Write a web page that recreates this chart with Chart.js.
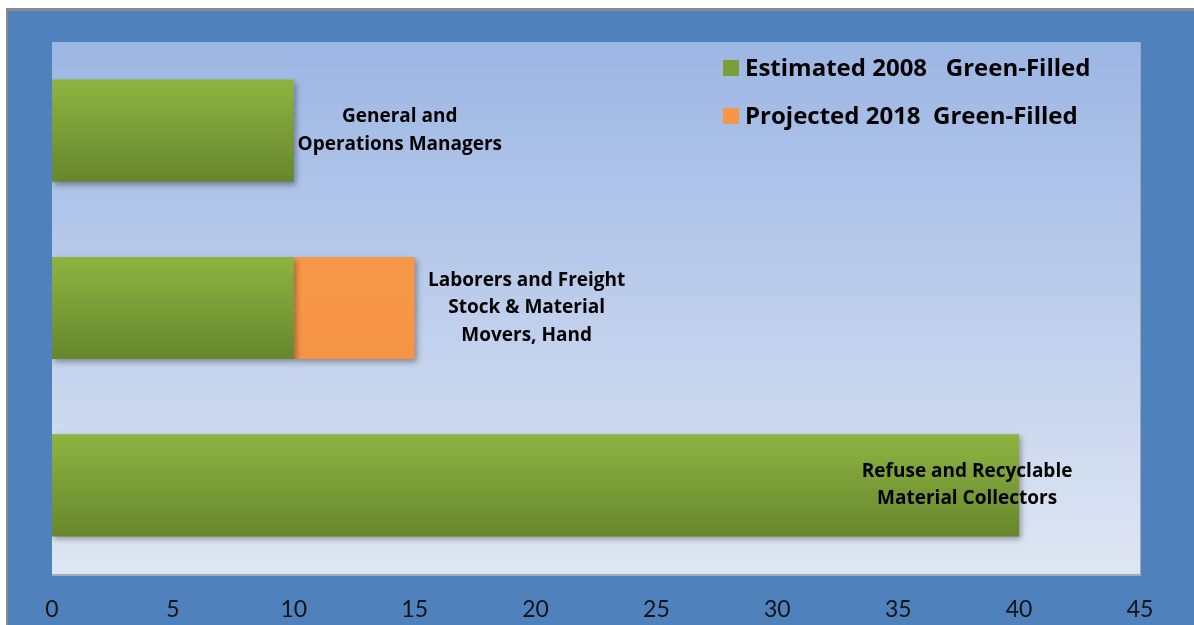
<!DOCTYPE html>
<html>
<head>
<meta charset="utf-8">
<script src="https://cdn.jsdelivr.net/npm/chart.js@4/dist/chart.umd.min.js"></script>
<style>
  html, body { margin: 0; padding: 0; background: #fff; }
  #wrap { width: 1194px; height: 625px; }
</style>
</head>
<body>
<div id="wrap"><canvas id="myChart" width="1194" height="625"></canvas></div>
<script>
// categories, top to bottom
const categories = [
  ['General and', 'Operations Managers'],
  ['Laborers and Freight', 'Stock & Material', 'Movers, Hand'],
  ['Refuse and Recyclable', 'Material Collectors']
];
const estimated2008 = [10, 10, 40];
const projected2018 = [0, 5, 0];
const seriesNames = ['Estimated 2008   Green-Filled', 'Projected 2018  Green-Filled'];
const xMin = 0, xMax = 45, xStep = 5;

const CAT_PCT = 0.8, BAR_PCT = 0.72;

// vertical gradient for each bar, built from the category scale
const barFill = (top, bottom) => (c) => {
  const chart = c.chart;
  const y = chart.scales && chart.scales.y;
  if (!y || !chart.chartArea || c.dataIndex === undefined) return top;
  const mid = y.getPixelForValue(c.dataIndex);
  const half = (y.height / categories.length) * CAT_PCT * BAR_PCT / 2;
  const g = chart.ctx.createLinearGradient(0, mid - half, 0, mid + half);
  g.addColorStop(0, top);
  g.addColorStop(1, bottom);
  return g;
};

const frame = {
  id: 'frame',
  beforeDraw(chart) {
    const { ctx, width, height, chartArea: a } = chart;
    ctx.save();
    ctx.fillStyle = '#ffffff';
    ctx.fillRect(0, 0, width, height);
    ctx.fillStyle = '#8a8a8a';
    ctx.fillRect(6, 8, width - 6, height - 8);
    ctx.fillStyle = '#4f81bd';
    ctx.fillRect(8, 11, width - 8, height - 11);
    // plot area
    const g = ctx.createLinearGradient(0, a.top, 0, a.bottom);
    g.addColorStop(0, '#9cb6e4');
    g.addColorStop(1, '#dfe6f3');
    ctx.fillStyle = '#a3a9b5';
    ctx.fillRect(a.left, a.top, a.right - a.left + 1, a.bottom - a.top + 2);
    ctx.fillStyle = g;
    ctx.fillRect(a.left, a.top, a.right - a.left, a.bottom - a.top);
    ctx.restore();
  },
  beforeDatasetsDraw(chart) {
    const ctx = chart.ctx;
    ctx.save();
    ctx.shadowColor = 'rgba(0,0,0,0.35)';
    ctx.shadowBlur = 6;
    ctx.shadowOffsetX = 2;
    ctx.shadowOffsetY = 3;
  },
  afterDatasetsDraw(chart, args, opts) {
    const ctx = chart.ctx;
    ctx.restore();
    const x = chart.scales.x, y = chart.scales.y;
    // category names next to the bars
    ctx.save();
    ctx.font = 'bold 19px "Open Sans"';
    ctx.fillStyle = '#000';
    ctx.textAlign = 'center';
    ctx.textBaseline = 'middle';
    chart.data.labels.forEach((lines, i) => {
      const end = estimated2008[i] + projected2018[i];
      const cx = x.getPixelForValue(end) + opts.shift[i];
      const cy = y.getPixelForValue(i);
      const lh = 27.5;
      lines.forEach((t, k) => {
        ctx.fillText(t, cx, cy + (k - (lines.length - 1) / 2) * lh);
      });
    });
    // legend
    ctx.font = 'bold 24px "Open Sans"';
    ctx.textAlign = 'left';
    chart.data.datasets.forEach((ds, i) => {
      const ry = opts.legendY[i];
      ctx.fillStyle = ds.swatch;
      ctx.fillRect(opts.legendX, ry - 8, 16, 16);
      ctx.fillStyle = '#000';
      ctx.fillText(ds.label, opts.legendX + 22, ry + 1);
    });
    ctx.restore();
  }
};

const ctx = document.getElementById('myChart').getContext('2d');
const myChart = new Chart(ctx, {
  type: 'bar',
  data: {
    labels: categories,
    datasets: [
      {
        label: seriesNames[0],
        data: estimated2008,
        backgroundColor: barFill('#8db441', '#67862d'),
        swatch: '#7a9f36'
      },
      {
        label: seriesNames[1],
        data: projected2018,
        backgroundColor: barFill('#f79848', '#f69446'),
        swatch: '#f79646'
      }
    ]
  },
  plugins: [frame],
  options: {
    indexAxis: 'y',
    responsive: false,
    animation: false,
    categoryPercentage: CAT_PCT,
    barPercentage: BAR_PCT,
    borderWidth: 0,
    layout: { padding: { left: 52, top: 42, right: 54, bottom: 0 } },
    scales: {
      x: {
        stacked: true,
        min: xMin,
        max: xMax,
        ticks: {
          stepSize: xStep,
          color: '#141414',
          font: { family: 'Lato', size: 23 },
          padding: 14,
          maxRotation: 0
        },
        grid: { display: false },
        border: { display: false },
        afterFit(axis) { axis.height = 51; }
      },
      y: {
        stacked: true,
        display: false
      }
    },
    plugins: {
      legend: { display: false },
      tooltip: { enabled: false },
      frame: { shift: [106, 112, -52], legendX: 723, legendY: [68, 116] }
    }
  }
});
</script>
</body>
</html>
